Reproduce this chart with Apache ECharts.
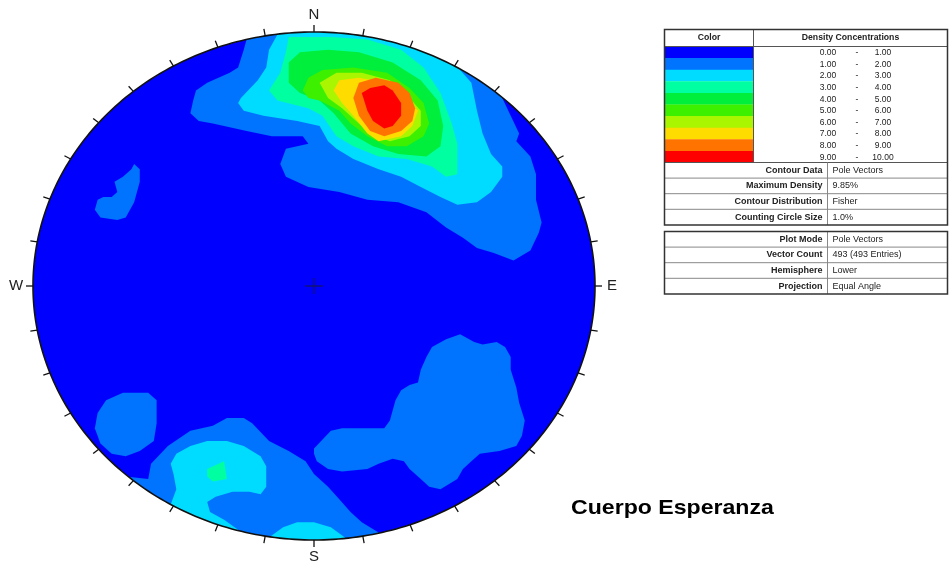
<!DOCTYPE html>
<html>
<head>
<meta charset="utf-8">
<script src="https://cdn.jsdelivr.net/npm/echarts/dist/echarts.min.js"></script>
<style>html,body{margin:0;padding:0;background:#fff}#chart{width:950px;height:563px}</style>
</head>
<body>
<div id="chart"></div>
<script>
// density levels (colour scale)
var levelColors = ['#0000ff', '#0073ff', '#00dcff', '#00ffa0', '#00ee3c', '#3cf000', '#aaf500', '#ffdc00', '#ff7300', '#ff0000'];
var levelLow = ['0.00', '1.00', '2.00', '3.00', '4.00', '5.00', '6.00', '7.00', '8.00', '9.00'];
var levelHigh = ['1.00', '2.00', '3.00', '4.00', '5.00', '6.00', '7.00', '8.00', '9.00', '10.00'];

var contourLabels = ['Contour Data', 'Maximum Density', 'Contour Distribution', 'Counting Circle Size'];
var contourValues = ['Pole Vectors', '9.85%', 'Fisher', '1.0%'];
var plotLabels = ['Plot Mode', 'Vector Count', 'Hemisphere', 'Projection'];
var plotValues = ['Pole Vectors', '493 (493 Entries)', 'Lower', 'Equal Angle'];

var tickAzimuths = [0, 10, 20, 30, 40, 50, 60, 70, 80, 90, 100, 110, 120, 130, 140, 150, 160, 170,
    180, 190, 200, 210, 220, 230, 240, 250, 260, 270, 280, 290, 300, 310, 320, 330, 340, 350];
var cardinalNames = ['N', 'E', 'S', 'W'];
var cardinalAzimuths = [0, 90, 180, 270];

// contour boundaries, stereonet coords (radius = 100, x east, y north)
var level1North = [[67,74],[70,67],[73,60],[72,57],[77,51],[79,44],[79,34],[81,25],[80,21],[77,14],[71,10],
    [64,13],[58,15],[53,19],[47,23],[40,29],[30,33],[19,34],[9,37],[-2,39],[-10,43],[-12,48],[-10,54],[-2,56],
    [-4,59],[-15,59],[-24,61],[-36,64],[-41,65],[-44,68],[-43,73],[-42,77],[-38,80],[-30,84],[-27,86],[-25,93],[-24,97]];
var level1WestUpper = [[-64,48],[-62,46],[-62,41],[-64,33],[-67,27],[-70,26],[-76,27],[-78,30],[-77,34],[-75,35],
    [-72,35],[-70,37],[-71,41],[-68,43],[-65,46]];
var level1WestLower = [[-74,-45],[-68,-42],[-59,-42],[-56,-45],[-56,-54],[-57,-61],[-62,-65],[-67,-67],[-72,-66],
    [-76,-62],[-78,-56],[-77,-50]];
var level1South = [[23,-97],[17,-93],[13,-89],[9,-84],[5,-79],[0,-74],[-3,-69],[-9,-65],[-16,-61],[-22,-54],
    [-25,-52],[-31,-52],[-36,-55],[-44,-57],[-52,-63],[-58,-70],[-59,-76],[-67,-75]];
var level1East = [[0,-64],[6,-57],[10,-56],[19,-56],[25,-56],[27,-53],[29,-45],[31,-41],[34,-39],[37,-38],[38,-33],
    [40,-28],[42,-24],[47,-21],[52,-19],[57,-22],[60,-23],[65,-22],[68,-24],[70,-28],[70,-33],[72,-40],[73,-46],
    [75,-53],[74,-59],[72,-63],[66,-65],[59,-66],[56,-69],[53,-72],[51,-76],[45,-80],[41,-79],[38,-76],[34,-72],
    [32,-69],[28,-68],[23,-70],[19,-72],[10,-73],[5,-72],[1,-69],[0,-66]];
var level2North = [[52,85],[56,80],[58,69],[60,60],[63,52],[67,47],[67,43],[63,37],[58,33],[51,32],[45,35],[38,39],
    [31,43],[23,46],[14,50],[8,54],[5,57],[2,63],[-6,65],[-18,67],[-25,69],[-27,72],[-26,74],[-20,81],[-17,86],
    [-16,93],[-13,99]];
var level2SouthWest = [[-27,-96],[-32,-92],[-37,-89],[-38,-85],[-35,-83],[-29,-81],[-23,-81],[-19,-82],[-17,-79],
    [-17,-71],[-19,-67],[-25,-63],[-31,-61],[-38,-61],[-44,-63],[-49,-66],[-51,-70],[-50,-74],[-49,-80],[-51,-86]];
var level2South = [[11,-99],[6,-95],[0,-93],[-6,-93],[-11,-95],[-16,-99]];
var level3North = [[-9,98],[-10,92],[-12,84],[-16,77],[-13,73],[-2,70],[3,67],[8,59],[14,55],[23,51],[33,50],
    [42,47],[47,43],[51,44],[51,56],[49,64],[45,76],[39,86],[31,93],[19,97],[6,98]];
var level3SouthWest = [[-38,-72],[-32,-69],[-31,-76],[-36,-77],[-38,-75]];
var level4North = [[-9,88],[-5,92],[5,93],[16,92],[28,88],[38,81],[44,73],[46,63],[45,55],[40,51],[30,52],[21,55],
    [13,60],[7,68],[2,73],[-5,76],[-9,80]];
var level5North = [[-4,77],[-2,82],[3,85],[14,86],[26,84],[34,78],[39,72],[41,64],[39,59],[33,55],[26,55],[19,59],
    [13,64],[9,69],[2,73],[-2,74]];
var level6North = [[2,80],[8,84],[17,84],[27,81],[34,74],[38,69],[38,63],[34,59],[27,57],[20,60],[15,65],[10,70],[5,74]];
var level7North = [[7,77],[9,81],[16,82],[26,80],[33,74],[37,69],[35,63],[31,59],[23,57],[19,60],[14,67],[10,72]];
var level8North = [[14,74],[16,80],[22,82],[30,80],[34,76],[36,70],[35,65],[31,61],[25,59],[20,61],[16,67]];
var level9North = [[17,76],[20,78],[25,79],[28,77],[31,72],[31,67],[28,63],[25,62],[21,65],[19,69]];

// [level, boundary, closes along the primitive circle]
var contourRegions = [
    [1, level1North, true], [1, level1WestUpper, false], [1, level1WestLower, false],
    [1, level1South, true], [1, level1East, false],
    [2, level2North, true], [2, level2SouthWest, true], [2, level2South, true],
    [3, level3North, false], [3, level3SouthWest, false],
    [4, level4North, false], [5, level5North, false], [6, level6North, false],
    [7, level7North, false], [8, level8North, false], [9, level9North, false]
];

var FONT = '"Liberation Sans", Arial, sans-serif';

function ellipse(api, r, n) {
    var out = [];
    for (var k = 0; k < n; k++) {
        var a = 2 * Math.PI * k / n;
        out.push(api.coord([r * Math.cos(a), r * Math.sin(a)]));
    }
    return out;
}

function renderDisk(params, api) {
    return {type: 'polygon', shape: {points: ellipse(api, 100, 240)}, style: {fill: levelColors[0]}};
}

function renderRegion(params, api) {
    var reg = contourRegions[params.dataIndex];
    var pts = reg[1].slice();
    if (reg[2]) {
        var last = pts[pts.length - 1], first = pts[0];
        var a0 = Math.atan2(last[1], last[0]);
        var d = Math.atan2(first[1], first[0]) - a0;
        while (d > Math.PI) d -= 2 * Math.PI;
        while (d < -Math.PI) d += 2 * Math.PI;
        for (var k = 0; k <= 24; k++) {
            var a = a0 + d * k / 24;
            pts.push([106 * Math.cos(a), 106 * Math.sin(a)]);
        }
    }
    return {
        type: 'polygon',
        shape: {points: pts.map(function (p) { return api.coord(p); })},
        style: {fill: levelColors[reg[0]]}
    };
}

function renderFrame(params, api) {
    var c = api.coord([0, 0]);
    var children = [];
    // white mask outside the primitive circle
    var outer = ellipse(api, 118, 180);
    var inner = ellipse(api, 100, 180).reverse();
    var fmt = function (p) { return p[0].toFixed(2) + ' ' + p[1].toFixed(2); };
    var d = 'M' + outer.map(fmt).join(' L') + ' Z M' + inner.map(fmt).join(' L') + ' Z';
    children.push({type: 'path', shape: {pathData: d}, style: {fill: '#fff', stroke: null}});
    children.push({type: 'polygon', shape: {points: ellipse(api, 100, 360)},
        style: {fill: null, stroke: '#111', lineWidth: 1.6}});
    function dirAt(az) {
        var rad = az * Math.PI / 180;
        var p = api.coord([100 * Math.sin(rad), 100 * Math.cos(rad)]);
        var dx = p[0] - c[0], dy = p[1] - c[1], len = Math.sqrt(dx * dx + dy * dy);
        return [p, dx / len, dy / len];
    }
    tickAzimuths.forEach(function (az) {
        var t = dirAt(az);
        children.push({type: 'line', shape: {x1: t[0][0], y1: t[0][1], x2: t[0][0] + t[1] * 7, y2: t[0][1] + t[2] * 7},
            style: {stroke: '#111', lineWidth: 1.3}});
    });
    cardinalNames.forEach(function (nm, i) {
        var t = dirAt(cardinalAzimuths[i]);
        children.push({type: 'text', x: t[0][0] + t[1] * 17, y: t[0][1] + t[2] * 17,
            style: {text: nm, font: '15px ' + FONT, fill: '#222', align: 'center', verticalAlign: 'middle',
                textAlign: 'center', textVerticalAlign: 'middle'}});
    });
    children.push({type: 'line', shape: {x1: c[0] - 9, y1: c[1], x2: c[0] + 9, y2: c[1]}, style: {stroke: '#1a1a3a', lineWidth: 1}});
    children.push({type: 'line', shape: {x1: c[0], y1: c[1] - 8, x2: c[0], y2: c[1] + 8}, style: {stroke: '#1a1a3a', lineWidth: 1}});
    return {type: 'group', children: children};
}

// info table (graphic)
var g = [];
function gRect(x, y, w, h, fill, stroke, lw) {
    g.push({type: 'rect', silent: true, shape: {x: x, y: y, width: w, height: h},
        style: {fill: fill || 'none', stroke: stroke || null, lineWidth: lw || 0}});
}
function gLine(x1, y1, x2, y2, col, lw) {
    g.push({type: 'line', silent: true, shape: {x1: x1, y1: y1, x2: x2, y2: y2}, style: {stroke: col, lineWidth: lw}});
}
function gText(x, y, s, align, bold, size) {
    g.push({type: 'text', silent: true, x: x, y: y,
        style: {text: s, font: (bold ? 'bold ' : '') + (size || 9) + 'px ' + FONT, fill: '#222',
            align: align, verticalAlign: 'middle', textAlign: align, textVerticalAlign: 'middle'}});
}
var TL = 664.5, TR = 947.5, top1 = 29.5, hdrB = 46.5, rowH = 11.6, colDiv = 753.5, valDiv = 827.5;
var legB = hdrB + levelColors.length * rowH;
levelColors.forEach(function (col, i) {
    gRect(TL, hdrB + i * rowH, colDiv - TL, rowH + 0.3, col);
    gText(828, hdrB + (i + 0.5) * rowH + 0.5, levelLow[i], 'center', false, 8.5);
    gText(857, hdrB + (i + 0.5) * rowH + 0.5, '-', 'center', false, 8.5);
    gText(883, hdrB + (i + 0.5) * rowH + 0.5, levelHigh[i], 'center', false, 8.5);
});
gText((TL + colDiv) / 2, (top1 + hdrB) / 2, 'Color', 'center', true, 8.7);
gText((colDiv + TR) / 2, (top1 + hdrB) / 2, 'Density Concentrations', 'center', true, 8.7);
gLine(colDiv, top1, colDiv, legB, '#555', 1);
gLine(TL, hdrB, TR, hdrB, '#555', 1);
var infoH = 15.6;
gLine(TL, legB, TR, legB, '#555', 1);
contourLabels.forEach(function (lab, i) {
    var y = legB + i * infoH;
    if (i > 0) gLine(TL, y, TR, y, '#888', 1);
    gText(valDiv - 5, y + infoH / 2, lab, 'right', true);
    gText(valDiv + 5, y + infoH / 2, contourValues[i], 'left', false);
});
var bot1 = legB + contourLabels.length * infoH;
gLine(valDiv, legB, valDiv, bot1, '#888', 1);
gRect(TL, top1, TR - TL, bot1 - top1, null, '#333', 1.5);
var top2 = 231.5;
plotLabels.forEach(function (lab, i) {
    var y = top2 + i * infoH;
    if (i > 0) gLine(TL, y, TR, y, '#888', 1);
    gText(valDiv - 5, y + infoH / 2, lab, 'right', true);
    gText(valDiv + 5, y + infoH / 2, plotValues[i], 'left', false);
});
var bot2 = top2 + plotLabels.length * infoH;
gLine(valDiv, top2, valDiv, bot2, '#888', 1);
gRect(TL, top2, TR - TL, bot2 - top2, null, '#333', 1.5);
// chart title
g.push({type: 'text', silent: true, x: 571, y: 508, scaleX: 1.1,
    style: {text: 'Cuerpo Esperanza', font: 'bold 21px ' + FONT, fill: '#000',
        align: 'left', verticalAlign: 'middle', textAlign: 'left', textVerticalAlign: 'middle'}});

var chart = echarts.init(document.getElementById('chart'));
var option = {
    animation: false,
    backgroundColor: '#fff',
    grid: {left: 33, top: 32, width: 562, height: 508},
    xAxis: {type: 'value', min: -100, max: 100, show: false},
    yAxis: {type: 'value', min: -100, max: 100, show: false},
    graphic: {elements: g},
    series: [
        {type: 'custom', name: 'base', silent: true, data: [[0, 0]], renderItem: renderDisk},
        {type: 'custom', name: 'density', silent: true,
            data: contourRegions.map(function (r, i) { return [i, 0]; }), renderItem: renderRegion},
        {type: 'custom', name: 'frame', silent: true, data: [[0, 0]], renderItem: renderFrame}
    ]
};
chart.setOption(option);
window.onresize = function () { chart.resize(); };
</script>
</body>
</html>
